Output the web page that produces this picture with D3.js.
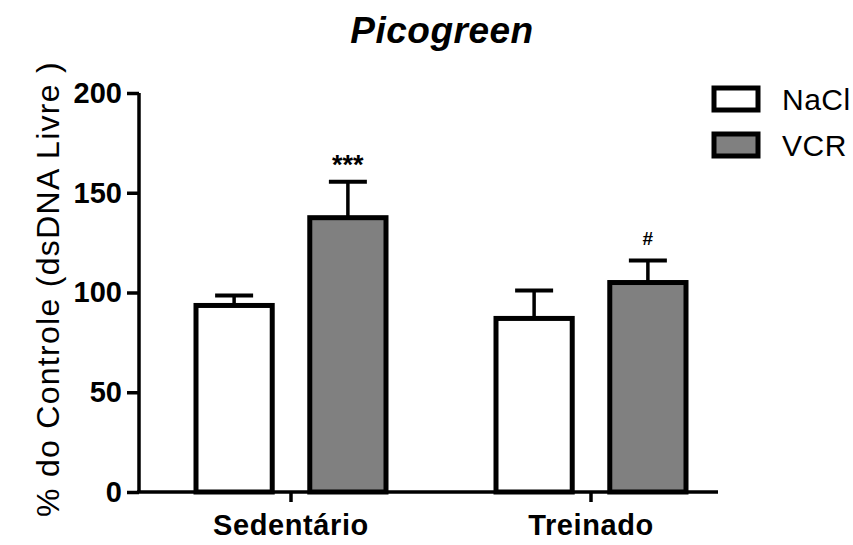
<!DOCTYPE html>
<html>
<head>
<meta charset="utf-8">
<script src="https://cdn.jsdelivr.net/npm/d3@7"></script>
<style>
  html, body { margin: 0; padding: 0; background: #fff; }
  svg { display: block; }
  text { font-family: "Liberation Sans", Arial, sans-serif; fill: #000; }
</style>
</head>
<body>
<svg id="chart" width="853" height="545"></svg>
<script>
// ---- data ----
const categories = ["Sedentário", "Treinado"];
const seriesNames = ["NaCl", "VCR"];
const naclMeans = [93.5, 87];
const naclErrors = [5, 14];
const vcrMeans = [137.5, 105];
const vcrErrors = [18, 11];
const annotations = ["", "***", "", "#"]; // per bar: Sed NaCl, Sed VCR, Tre NaCl, Tre VCR
const yTicks = [0, 50, 100, 150, 200];
const seriesColors = ["#ffffff", "#808080"];

const svg = d3.select("#chart");

const x0 = d3.scaleBand().domain(categories).range([141, 741]);
const x1 = d3.scaleBand().domain(seriesNames).range([55, 245]).paddingInner(0.33);
const y = d3.scaleLinear().domain([0, 200]).range([492, 93]);

const rows = [];
categories.forEach((c, i) => {
  rows.push({cat: c, s: "NaCl", mean: naclMeans[i], err: naclErrors[i], ann: annotations[i * 2]});
  rows.push({cat: c, s: "VCR", mean: vcrMeans[i], err: vcrErrors[i], ann: annotations[i * 2 + 1]});
});
const color = d3.scaleOrdinal().domain(seriesNames).range(seriesColors);
const cx = d => x0(d.cat) + x1(d.s) + x1.bandwidth() / 2;

// error bars (drawn first so bars cover stems)
const eb = svg.append("g");
eb.selectAll("line.stem").data(rows).join("line")
  .attr("x1", cx).attr("x2", cx)
  .attr("y1", d => y(d.mean)).attr("y2", d => y(d.mean + d.err))
  .attr("stroke", "#000").attr("stroke-width", 3.5);
eb.selectAll("line.cap").data(rows).join("line")
  .attr("x1", d => cx(d) - 19).attr("x2", d => cx(d) + 19)
  .attr("y1", d => y(d.mean + d.err)).attr("y2", d => y(d.mean + d.err))
  .attr("stroke", "#000").attr("stroke-width", 4);

// bars
svg.append("g").selectAll("rect").data(rows).join("rect")
  .attr("x", d => x0(d.cat) + x1(d.s))
  .attr("width", x1.bandwidth())
  .attr("y", d => y(d.mean))
  .attr("height", d => y(0) - y(d.mean))
  .attr("fill", d => color(d.s))
  .attr("stroke", "#000").attr("stroke-width", 5);

// annotations
svg.append("g").selectAll("text").data(rows.filter(d => d.ann)).join("text")
  .attr("x", cx)
  .attr("y", d => y(d.mean + d.err) - (d.ann === "#" ? 16 : 8))
  .attr("text-anchor", "middle")
  .style("font-size", d => d.ann === "#" ? "19px" : "27px")
  .style("font-weight", "bold")
  .attr("fill", "#222")
  .text(d => d.ann);

// y axis
const yAxis = svg.append("g").attr("transform", "translate(139,0)")
  .call(d3.axisLeft(y).tickValues(yTicks).tickSize(12).tickPadding(5).tickFormat(d3.format("d")));
yAxis.select(".domain").attr("stroke", "#000").attr("stroke-width", 3.5).attr("d", `M0,${y(200)}V${y(0)}`);
yAxis.selectAll(".tick line").attr("stroke", "#000").attr("stroke-width", 3.5);
yAxis.selectAll(".tick text").style("font-size", "29px").style("font-weight", "bold")
  .style("font-family", "'Liberation Sans', Arial, sans-serif").attr("fill", "#000");

// x axis
const xAxis = svg.append("g").attr("transform", `translate(0,${y(0)})`)
  .call(d3.axisBottom(x0).tickSize(10).tickPadding(12));
xAxis.select(".domain").attr("stroke", "#000").attr("stroke-width", 3.5).attr("d", "M137,0H718");
xAxis.selectAll(".tick line").attr("stroke", "#000").attr("stroke-width", 3.5);
xAxis.selectAll(".tick text").style("font-size", "29px").style("font-weight", "bold")
  .style("letter-spacing", "0.6px")
  .style("font-family", "'Liberation Sans', Arial, sans-serif").attr("fill", "#000");

// title
svg.append("text").attr("x", 442).attr("y", 43).attr("text-anchor", "middle")
  .style("font-size", "37px").style("font-weight", "bold").style("font-style", "italic")
  .style("letter-spacing", "0.5px")
  .text("Picogreen");

// y axis title
svg.append("text").attr("transform", "translate(59,289) rotate(-90)")
  .attr("text-anchor", "middle")
  .style("font-size", "32px")
  .style("letter-spacing", "1.3px")
  .text("% do Controle (dsDNA Livre )");

// legend
const leg = svg.append("g");
seriesNames.forEach((s, i) => {
  const cy = 99 + i * 46;
  leg.append("rect").attr("x", 714).attr("y", cy - 11).attr("width", 44).attr("height", 22)
    .attr("fill", color(s)).attr("stroke", "#000").attr("stroke-width", 5);
  leg.append("text").attr("x", 782).attr("y", cy + 10.5).style("font-size", "30px")
    .style("letter-spacing", "0.5px").text(s);
});
</script>
</body>
</html>
